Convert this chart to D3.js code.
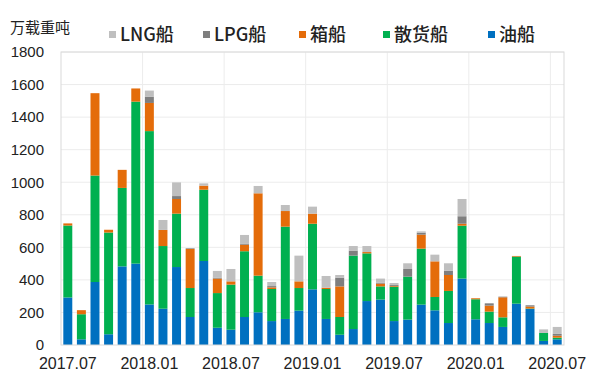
<!DOCTYPE html>
<html>
<head>
<meta charset="utf-8">
<script src="https://cdn.jsdelivr.net/npm/d3@7"></script>
<style>
  body { margin: 0; background: #fff; }
  svg { display: block; }
</style>
</head>
<body>
<div id="chart"></div>
<script>
// months 2017.07 .. 2020.07
var months = ["2017.07","2017.08","2017.09","2017.10","2017.11","2017.12",
  "2018.01","2018.02","2018.03","2018.04","2018.05","2018.06",
  "2018.07","2018.08","2018.09","2018.10","2018.11","2018.12",
  "2019.01","2019.02","2019.03","2019.04","2019.05","2019.06",
  "2019.07","2019.08","2019.09","2019.10","2019.11","2019.12",
  "2020.01","2020.02","2020.03","2020.04","2020.05","2020.06","2020.07"];

// 万载重吨
var tanker = [292,35,387,66,483,500, 249,223,479,172,516,106, 94,172,201,147,160,211,
  342,160,63,98,270,279, 147,156,248,213,135,408, 158,135,111,254,221,25, 35];
var bulk = [442,154,654,625,482,995, 1065,385,328,178,438,213, 277,404,225,197,567,139,
  403,184,109,451,293,81, 211,264,344,82,197,325, 123,70,59,289,3,49, 10];
var container = [13,25,506,17,111,81, 173,99,90,240,25,89, 20,40,506,10,96,41,
  62,8,188,0,8,17, 5,0,86,219,98,12, 6,37,123,4,12,0, 12];
var lpg = [0,0,0,0,0,0, 39,0,18,4,0,6, 0,7,0,8,0,0,
  0,0,54,31,0,6, 6,47,12,0,27,46, 0,14,4,0,8,0, 11];
var lng = [0,0,0,0,0,0, 37,61,84,0,14,41, 76,53,45,25,37,158,
  43,72,16,28,37,25, 12,35,8,41,45,106, 0,0,0,0,0,22, 43];

var xLabels = ["2017.07","2018.01","2018.07","2019.01","2019.07","2020.01","2020.07"];
var yTicks = [0,200,400,600,800,1000,1200,1400,1600,1800];

// legend order is top of stack first
var seriesKeys = ["LNG船","LPG船","箱船","散货船","油船"];
var colors = {"LNG船":"#bfbfbf","LPG船":"#7f7f7f","箱船":"#e46c0a","散货船":"#00b050","油船":"#0070c0"};

var width = 600, height = 384;
var margin = {top: 52, right: 36, bottom: 39, left: 61};
var w = width - margin.left - margin.right;
var h = height - margin.top - margin.bottom;

var rows = months.map(function(m, i) {
    return {month: m, "油船": tanker[i], "散货船": bulk[i], "箱船": container[i], "LPG船": lpg[i], "LNG船": lng[i]};
});

var stackOrder = ["油船","散货船","箱船","LPG船","LNG船"];
var stacked = d3.stack().keys(stackOrder)(rows);

var svg = d3.select("#chart").append("svg")
    .attr("width", width)
    .attr("height", height);

var g = svg.append("g").attr("transform", "translate(" + margin.left + "," + margin.top + ")");

var x = d3.scaleBand().domain(months).range([0, w]).paddingInner(0.34).paddingOuter(0.17);
var y = d3.scaleLinear().domain([0, 1800]).range([h, 0]);

// horizontal grid
g.selectAll(".hgrid").data(yTicks.slice(1)).enter().append("line")
    .attr("x1", 0).attr("x2", w)
    .attr("y1", function(d) { return y(d); }).attr("y2", function(d) { return y(d); })
    .attr("stroke", "#ececec").attr("stroke-width", 1);

// vertical grid every 6 months
var step = x.step();
g.selectAll(".vgrid").data(xLabels.slice(1)).enter().append("line")
    .attr("x1", function(d) { return x(d) - step * x.paddingInner() / 2; })
    .attr("x2", function(d) { return x(d) - step * x.paddingInner() / 2; })
    .attr("y1", 0).attr("y2", h)
    .attr("stroke", "#ececec").attr("stroke-width", 1);

// bars
g.selectAll(".layer").data(stacked).enter().append("g")
    .attr("fill", function(d) { return colors[d.key]; })
    .selectAll("rect").data(function(d) { return d; }).enter().append("rect")
    .attr("x", function(d) { return x(d.data.month); })
    .attr("width", x.bandwidth())
    .attr("y", function(d) { return y(d[1]); })
    .attr("height", function(d) { return y(d[0]) - y(d[1]); });

// frame
g.append("rect").attr("x", 0).attr("y", 0).attr("width", w).attr("height", h)
    .attr("fill", "none").attr("stroke", "#d9d9d9").attr("stroke-width", 1);

var numFont = "'Liberation Sans', Arial, sans-serif";
var cjkFont = "'Noto Sans CJK SC', sans-serif";

// axes
var xAxis = g.append("g").attr("transform", "translate(0," + h + ")")
    .call(d3.axisBottom(x).tickValues(xLabels).tickSize(0).tickPadding(13));
xAxis.select(".domain").remove();
xAxis.attr("font-family", numFont).attr("font-size", 16);
xAxis.selectAll("text").attr("fill", "#222");

var yAxis = g.append("g")
    .call(d3.axisLeft(y).tickValues(yTicks).tickFormat(d3.format("d")).tickSize(0).tickPadding(17));
yAxis.select(".domain").remove();
yAxis.attr("font-family", numFont).attr("font-size", 15);
yAxis.selectAll("text").attr("fill", "#222");

// unit label
svg.append("text").attr("x", 10).attr("y", 33)
    .attr("fill", "#222")
    .attr("font-family", cjkFont).attr("font-size", 15)
    .text("万载重吨");

// legend
var legendX = [109, 203, 299, 383, 488];
var legend = svg.selectAll(".legend").data(seriesKeys).enter().append("g")
    .attr("transform", function(d, i) { return "translate(" + legendX[i] + ",35)"; });
legend.append("rect").attr("x", 0).attr("y", -4).attr("width", 7).attr("height", 7)
    .attr("fill", function(d) { return colors[d]; });
legend.append("text").attr("x", 11).attr("y", 0).attr("dy", "0.36em")
    .attr("fill", "#222")
    .attr("font-family", cjkFont).attr("font-size", 18).attr("font-weight", 500)
    .text(function(d) { return d; });
</script>
</body>
</html>
